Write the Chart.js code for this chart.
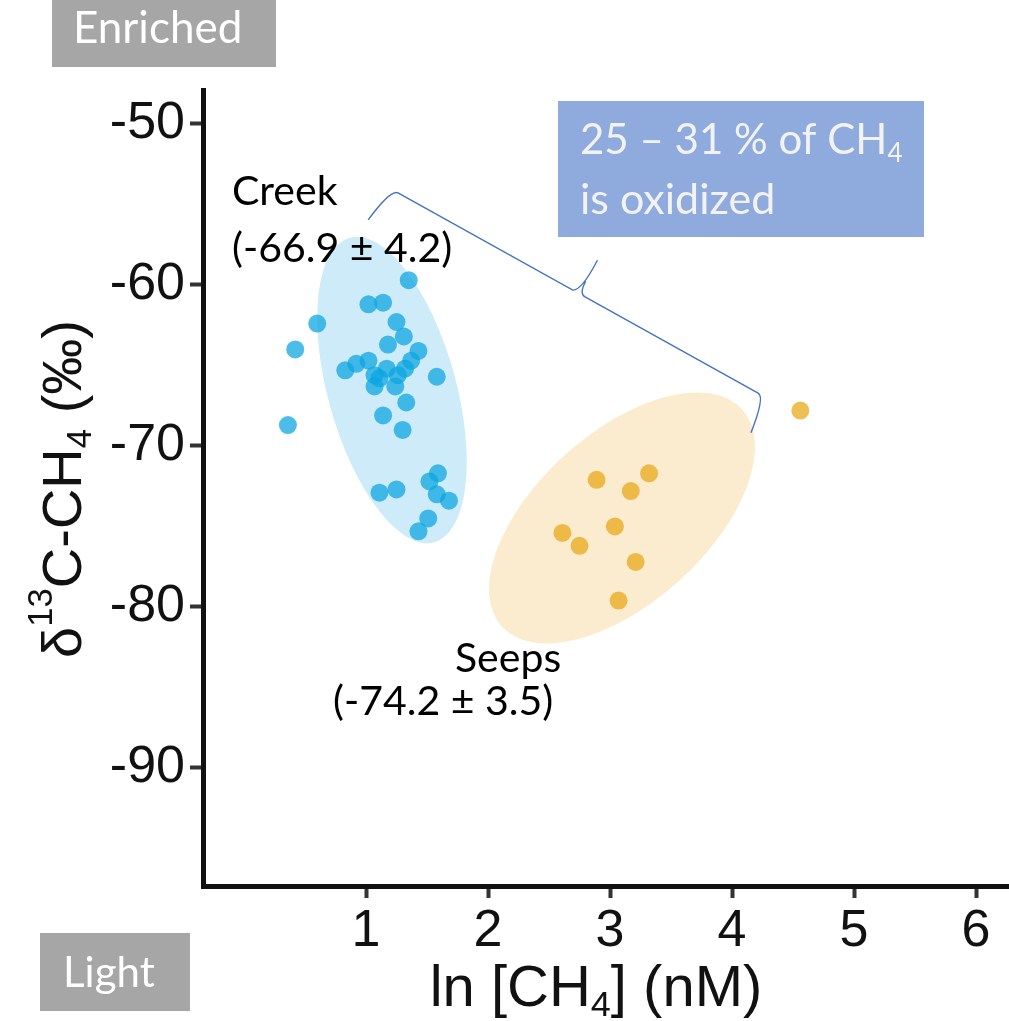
<!DOCTYPE html>
<html>
<head>
<meta charset="utf-8">
<script src="https://cdn.jsdelivr.net/npm/chart.js@4.4.1/dist/chart.umd.min.js"></script>
<style>
html, body { margin: 0; padding: 0; background: #fff; }
#wrap { width: 1009px; height: 1021px; }
</style>
</head>
<body>
<div id="wrap"><canvas id="chart" width="1009" height="1021"></canvas></div>
<script>
// ln[CH4] (nM) and d13C-CH4 (permil)
const creekX = [1.35, 1.02, 1.14, 0.60, 1.25, 1.31, 1.18, 0.42, 1.43, 1.37, 1.02,
    0.92, 0.83, 1.17, 1.32, 1.07, 1.58, 1.26, 1.11, 1.24, 1.07, 1.33,
    1.14, 0.36, 1.30, 1.59, 1.52, 1.11, 1.25, 1.58, 1.68, 1.51, 1.43];
const creekY = [-59.7, -61.2, -61.1, -62.4, -62.3, -63.2, -63.7, -64.0, -64.1, -64.7, -64.7,
    -64.9, -65.3, -65.2, -65.2, -65.6, -65.7, -65.6, -65.8, -66.3, -66.3, -67.3,
    -68.1, -68.7, -69.0, -71.7, -72.2, -72.9, -72.7, -73.0, -73.4, -74.5, -75.3];
const seepsX = [4.56, 3.32, 2.89, 3.17, 3.04, 2.61, 2.75, 3.21, 3.07];
const seepsY = [-67.8, -71.7, -72.1, -72.8, -75.0, -75.4, -76.2, -77.2, -79.6];

const xTicks = [1, 2, 3, 4, 5, 6];
const yTicks = [-50, -60, -70, -80, -90];
const xRange = [-0.336, 6.27];
const yRange = [-97.33, -47.89];

// confidence ellipses: centre and two semi-axis vectors, in data units
const creekEllipse = { c: [1.213, -66.52], u: [0.346, -9.46], v: [-0.506, -1.062] };
const seepsEllipse = { c: [3.098, -74.47], u: [0.985, 6.74], v: [0.467, -3.92] };
// ends of the curly bracket, in data units
const braceEnds = [[1.205, -54.04], [4.271, -66.96]];

const SANS = '"Liberation Sans", Arial, sans-serif';
const NOTE = 'Lato, "Open Sans", sans-serif';

function pix(chart, p) {
    return { x: chart.scales.x.getPixelForValue(p[0]), y: chart.scales.y.getPixelForValue(p[1]) };
}

function drawEllipse(chart, e, color) {
    const ctx = chart.ctx;
    const c = pix(chart, e.c);
    const a = pix(chart, [e.c[0] + e.u[0], e.c[1] + e.u[1]]);
    const b = pix(chart, [e.c[0] + e.v[0], e.c[1] + e.v[1]]);
    ctx.save();
    ctx.transform(a.x - c.x, a.y - c.y, b.x - c.x, b.y - c.y, c.x, c.y);
    ctx.beginPath();
    ctx.arc(0, 0, 1, 0, Math.PI * 2);
    ctx.restore();
    ctx.fillStyle = color;
    ctx.fill();
}

// text with sub/superscript parts: [text, scale, shift(em)]
function drawRuns(ctx, parts, x, y, family, size, color, align) {
    ctx.fillStyle = color;
    ctx.textBaseline = 'alphabetic';
    ctx.textAlign = 'left';
    let w = 0;
    for (const p of parts) {
        ctx.font = (size * (p[1] || 1)) + 'px ' + family;
        w += ctx.measureText(p[0]).width;
    }
    let cx = align === 'center' ? x - w / 2 : x;
    for (const p of parts) {
        ctx.font = (size * (p[1] || 1)) + 'px ' + family;
        ctx.fillText(p[0], cx, y + (p[2] || 0) * size);
        cx += ctx.measureText(p[0]).width;
    }
}

function drawBrace(chart) {
    const ctx = chart.ctx;
    const p1 = pix(chart, braceEnds[0]);
    const p2 = pix(chart, braceEnds[1]);
    const L = Math.hypot(p2.x - p1.x, p2.y - p1.y);
    const ux = (p2.x - p1.x) / L, uy = (p2.y - p1.y) / L;
    const nx = uy, ny = -ux;
    const mx = (p1.x + p2.x) / 2, my = (p1.y + p2.y) / 2;
    ctx.save();
    ctx.strokeStyle = '#4472c4';
    ctx.lineWidth = 1.4;
    ctx.beginPath();
    ctx.moveTo(p1.x - 38 * nx - 5 * ux, p1.y - 38 * ny - 5 * uy);
    ctx.quadraticCurveTo(p1.x, p1.y, p1.x + 8 * ux, p1.y + 8 * uy);
    ctx.lineTo(mx - 6 * ux, my - 6 * uy);
    ctx.quadraticCurveTo(mx + 2 * ux + 4 * nx, my + 2 * uy + 4 * ny, mx + 38 * nx + 1 * ux, my + 38 * ny + 1 * uy);
    ctx.moveTo(mx + 1 * ux + 14 * nx, my + 1 * uy + 14 * ny);
    ctx.quadraticCurveTo(mx + 1 * ux, my + 1 * uy, mx + 8 * ux, my + 8 * uy);
    ctx.lineTo(p2.x - 8 * ux, p2.y - 8 * uy);
    ctx.quadraticCurveTo(p2.x, p2.y, p2.x - 38 * nx + 5 * ux, p2.y - 38 * ny + 5 * uy);
    ctx.stroke();
    ctx.restore();
}

const annot = {
    id: 'annot',
    beforeDatasetsDraw(chart) {
        const ctx = chart.ctx, a = chart.chartArea;
        ctx.save();
        ctx.beginPath();
        ctx.rect(a.left, a.top, a.right - a.left, a.bottom - a.top);
        ctx.clip();
        drawEllipse(chart, creekEllipse, '#cdebf8');
        drawEllipse(chart, seepsEllipse, '#fbebcf');
        ctx.restore();
    },
    afterDraw(chart) {
        const ctx = chart.ctx;
        ctx.save();
        // axis titles
        drawRuns(ctx, [['ln [CH'], ['4', 0.62, 0.18], ['] (nM)']], 596, 1006, SANS, 58, '#111', 'center');
        ctx.save();
        ctx.translate(81, 489);
        ctx.rotate(-Math.PI / 2);
        drawRuns(ctx, [['\u03b4'], ['13', 0.62, -0.52], ['C-CH'], ['4', 0.62, 0.18], [' (\u2030)']], 0, 0, SANS, 56, '#111', 'center');
        ctx.restore();

        drawBrace(chart);

        // group labels
        drawRuns(ctx, [['Creek']], 232, 205, NOTE, 41, '#000', 'left');
        drawRuns(ctx, [['(-66.9 \u00b1 4.2)']], 232, 262, NOTE, 41, '#000', 'left');
        drawRuns(ctx, [['Seeps']], 455, 672, NOTE, 41, '#000', 'left');
        drawRuns(ctx, [['(-74.2 \u00b1 3.5)']], 333, 715, NOTE, 41, '#000', 'left');

        // oxidation note
        ctx.fillStyle = '#8faadc';
        ctx.fillRect(558, 101, 366, 136);
        drawRuns(ctx, [['25 \u2013 31 % of CH'], ['4', 0.62, 0.2]], 580, 154, NOTE, 42, '#f2f2f2', 'left');
        drawRuns(ctx, [['is oxidized']], 580, 214, NOTE, 43, '#f2f2f2', 'left');

        // direction tags
        ctx.fillStyle = '#a6a6a6';
        ctx.fillRect(52, 0, 224, 67);
        ctx.fillRect(40, 933, 150, 78);
        drawRuns(ctx, [['Enriched']], 73, 43, NOTE, 44, '#fff', 'left');
        drawRuns(ctx, [['Light']], 63, 987, NOTE, 42, '#fff', 'left');
        ctx.restore();
    }
};

const tickFont = { family: SANS, size: 52 };

new Chart(document.getElementById('chart').getContext('2d'), {
    type: 'scatter',
    data: {
        datasets: [
            {
                label: 'Creek',
                data: creekX.map((x, i) => ({ x: x, y: creekY[i] })),
                backgroundColor: 'rgba(10,164,225,0.73)',
                pointBorderWidth: 0,
                pointRadius: 9
            },
            {
                label: 'Seeps',
                data: seepsX.map((x, i) => ({ x: x, y: seepsY[i] })),
                backgroundColor: 'rgba(232,167,22,0.73)',
                pointBorderWidth: 0,
                pointRadius: 9
            }
        ]
    },
    options: {
        responsive: false,
        animation: false,
        layout: { autoPadding: false, padding: { top: 90, right: 0, bottom: 0, left: 0 } },
        plugins: {
            legend: { display: false },
            tooltip: { enabled: false }
        },
        scales: {
            x: {
                type: 'linear',
                min: xRange[0],
                max: xRange[1],
                afterBuildTicks: s => { s.ticks = xTicks.map(v => ({ value: v })); },
                afterFit: s => { s.height = 135; },
                grid: { drawOnChartArea: false, tickLength: 12, tickWidth: 4, tickColor: '#333' },
                border: { display: true, width: 5, color: '#111' },
                ticks: { font: tickFont, color: '#111', padding: 2, maxRotation: 0, autoSkip: false }
            },
            y: {
                type: 'linear',
                min: yRange[0],
                max: yRange[1],
                afterBuildTicks: s => { s.ticks = yTicks.map(v => ({ value: v })); },
                afterFit: s => { s.width = 203; },
                grid: { drawOnChartArea: false, tickLength: 13, tickWidth: 4, tickColor: '#333' },
                border: { display: true, width: 5, color: '#111' },
                ticks: { font: tickFont, color: '#111', padding: 5, autoSkip: false }
            }
        }
    },
    plugins: [annot]
});
</script>
</body>
</html>
